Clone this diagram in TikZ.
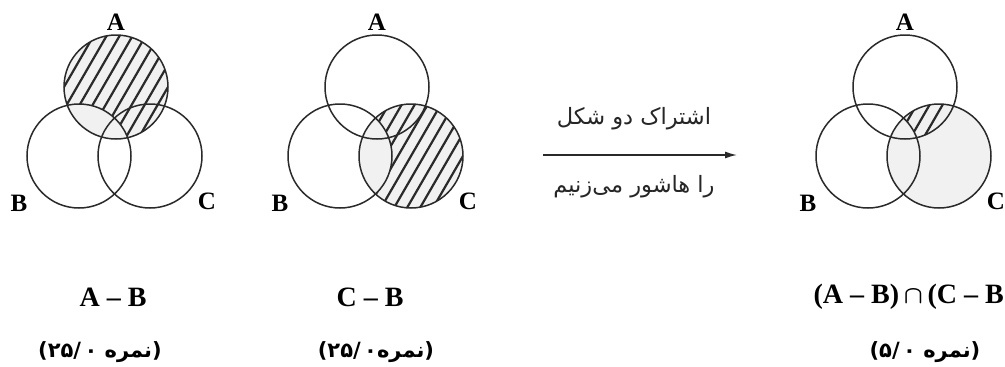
\documentclass[tikz,border=0pt]{standalone}
\usepackage{fontspec}
\setmainfont{Liberation Serif}
\newfontfamily\arabicfont[Script=Arabic]{DejaVu Sans}
\newfontfamily\plainsans{DejaVu Sans}
\TeXXeTstate=1
\usetikzlibrary{arrows.meta}
\definecolor{ink}{HTML}{2A2A2A}
\definecolor{areafill}{HTML}{F1F1F1}
\tikzset{
  ring/.style={draw=ink, line width=1.5pt},
  hatchline/.style={draw=ink, line width=2.2pt},
  setlabel/.style={font=\bfseries\fontsize{25}{25}\selectfont, inner sep=0pt},
  exprlabel/.style={font=\boldmath\bfseries\fontsize{28}{28}\selectfont, inner sep=0pt},
  scorelabel/.style={font=\bfseries\fontsize{21}{21}\selectfont, inner sep=0pt},
  arrowtext/.style={font=\arabicfont\fontsize{22.5}{22.5}\selectfont, text=black!85, inner sep=0pt},
}
\newcommand{\hatchat}[1]{%
  \foreach \k in {-12,...,12}
    \draw[hatchline, shift={(#1)}] (\k*13-70,121) -- ++(140,-242);}
% score text: (digits  word)
\newcommand{\scoretext}[1]{%
  \plainsans\bfseries(#1{\arabicfont\beginR نمره\endR}\plainsans)}
\begin{document}
\begin{tikzpicture}[x=1pt,y=-1pt]
\useasboundingbox (0,0) rectangle (1005,367);
% centres
\foreach \n/\bx in {1/79,2/340,3/868}{
  \coordinate (B\n) at (\bx,156);
  \coordinate (A\n) at (\bx+37,87);
  \coordinate (C\n) at (\bx+71,156);
}
\def\r{52}
% ---------- diagram 1 : A - B ----------
\fill[areafill] (A1) circle (\r);
\begin{scope}
  \clip (A1) circle (\r);
  \hatchat{A1}
\end{scope}
\begin{scope}
  \clip (A1) circle (\r);
  \fill[areafill] (B1) circle (\r);
\end{scope}
% ---------- diagram 2 : C - B ----------
\fill[areafill] (C2) circle (\r);
\begin{scope}
  \clip (C2) circle (\r);
  \hatchat{C2}
\end{scope}
\begin{scope}
  \clip (C2) circle (\r);
  \fill[areafill] (B2) circle (\r);
\end{scope}
% ---------- diagram 3 : (A-B) cap (C-B) ----------
\fill[areafill] (C3) circle (\r);
\begin{scope}
  \clip (C3) circle (\r);
  \clip (A3) circle (\r);
  \hatchat{C3}
\end{scope}
\begin{scope}
  \clip (C3) circle (\r);
  \fill[areafill] (B3) circle (\r);
\end{scope}
% outlines
\foreach \n in {1,2,3}{
  \draw[ring] (A\n) circle (\r);
  \draw[ring] (B\n) circle (\r);
  \draw[ring] (C\n) circle (\r);
}
% set letters
\foreach \n/\bx in {1/79,2/340,3/868}{
  \node[setlabel] (lA\n) at (\bx+37,22) {A};
  \node[setlabel] (lB\n) at (\bx-60,203) {B};
  \node[setlabel] (lC\n) at (\bx+128,201) {C};
}
% expressions
\node[exprlabel] (e1) at (113,297) {A – B};
\node[exprlabel] (e2) at (370,297) {C – B};
\node[exprlabel, anchor=east] (e3) at (1004,297) {(A – B)\,$\cap$\,(C – B};
% scores
\node[scorelabel] (s1) at (100,352) {\scoretext{۲۵/\,۰ }};
\node[scorelabel] (s2) at (376,352) {\scoretext{۲۵/\,۰}};
\node[scorelabel] (s3) at (925,352) {\scoretext{۵/\,۰ }};
% arrow
\coordinate (arS) at (543,155);
\coordinate (arE) at (737,155);
\draw[draw=ink, line width=1.4pt, -{Latex[length=12pt,width=7pt]}] (arS) -- (arE);
\node[arrowtext] (t1) at (634,119) {\beginR اشتراک دو شکل\endR};
\node[arrowtext] (t2) at (634,187) {\beginR را هاشور می‌زنیم\endR};
\end{tikzpicture}
\end{document}
